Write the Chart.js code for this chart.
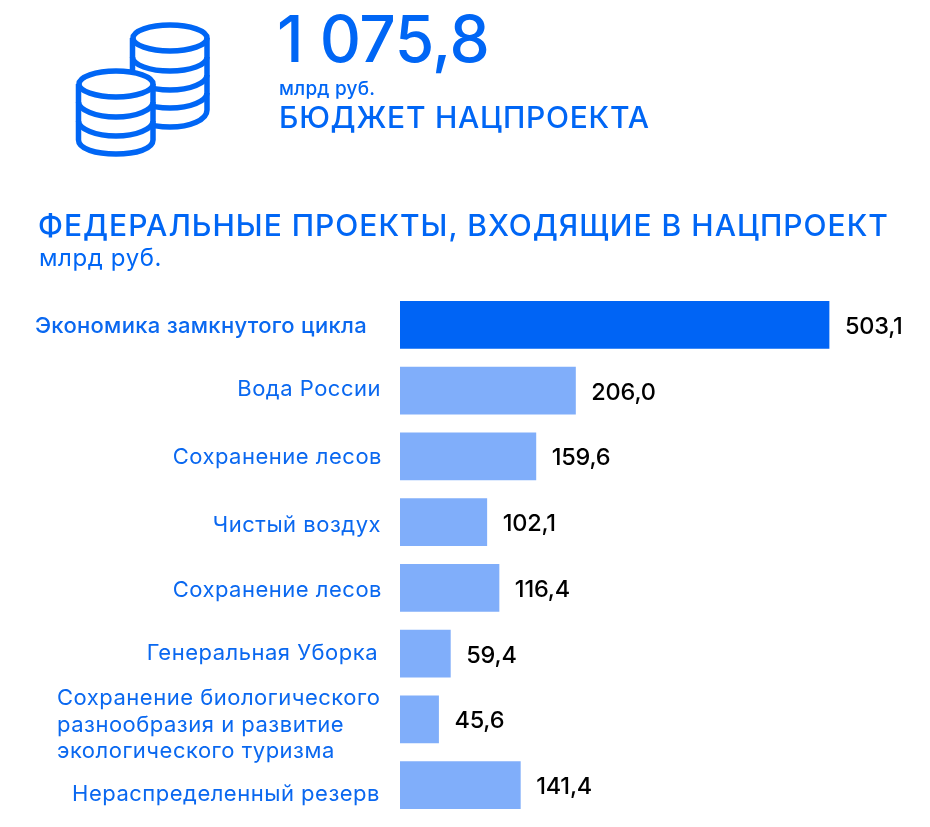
<!DOCTYPE html>
<html lang="ru">
<head>
<meta charset="utf-8">
<title>Бюджет нацпроекта</title>
<script src="https://cdn.jsdelivr.net/npm/chart.js@4"></script>
<style>
html, body { margin: 0; padding: 0; background: #fff; }
body { width: 930px; height: 827px; position: relative; overflow: hidden; font-family: Inter, "Noto Sans", sans-serif; color: #0066f5; }
#budgetChart { position: absolute; left: 0; top: 0; }
.txt { position: absolute; white-space: nowrap; line-height: 1; }
#coins { position: absolute; left: 0; top: 0; }
</style>
</head>
<body>
<canvas id="budgetChart" width="930" height="827"></canvas>

<svg id="coins" width="230" height="170" fill="none" stroke="#0066f5" stroke-width="5.500">
  <!-- back stack -->
  <path fill="#fff" d="M132.500 38 V110 C132.500 120 150 127 170 127 C190 127 207 120 207 110 V38"/>
  <ellipse cx="170" cy="38" rx="37" ry="13"/>
  <path d="M132.500 57 C132.500 65 150 71 170 71 C190 71 207 65 207 57"/>
  <path d="M132.500 75 C132.500 83 150 90 170 90 C190 90 207 83 207 75"/>
  <path d="M132.500 93 C132.500 101 150 108 170 108 C190 108 207 101 207 93"/>
  <!-- front stack -->
  <path fill="#fff" d="M78.500 84 V140 C78.500 149 96 154 116 154 C136 154 153 149 153 140 V84"/>
  <ellipse cx="116" cy="84" rx="37" ry="13" fill="#fff"/>
  <path d="M78.500 102 C78.500 110 96 117 116 117 C136 117 153 110 153 102"/>
  <path d="M78.500 121 C78.500 129 96 136 116 136 C136 136 153 129 153 121"/>
</svg>

<div class="txt" style="left:277px;top:7px;font-size:64px;font-weight:500;letter-spacing:-0.5px">1 075,8</div>
<div class="txt" style="left:279px;top:79px;font-size:19px;font-weight:500;letter-spacing:0.2px">млрд руб.</div>
<div class="txt" style="left:279px;top:102px;font-size:30px;font-weight:500;letter-spacing:0.75px">БЮДЖЕТ НАЦПРОЕКТА</div>
<div class="txt" style="left:38px;top:210px;font-size:30px;font-weight:500;letter-spacing:1px">ФЕДЕРАЛЬНЫЕ ПРОЕКТЫ, ВХОДЯЩИЕ В НАЦПРОЕКТ</div>
<div class="txt" style="left:39px;top:246px;font-size:24px;font-weight:400;letter-spacing:0.6px">млрд руб.</div>

<script>
const categories = [
    ["Экономика замкнутого цикла"],
    ["Вода России"],
    ["Сохранение лесов"],
    ["Чистый воздух"],
    ["Сохранение лесов"],
    ["Генеральная Уборка"],
    ["Сохранение биологического", "разнообразия и развитие", "экологического туризма"],
    ["Нераспределенный резерв"]
];
const values = [503.1, 206.0, 159.6, 102.1, 116.4, 59.4, 45.6, 141.4];

const darkBlue = "#0064f5";
const lightBlue = "#80aefa";
const labelBlue = "#0a68f0";

// first bar is the highlighted one
const barColors = values.map((v, i) => i === 0 ? darkBlue : lightBlue);

function formatValue(v) {
    return v.toFixed(1).replace(".", ",");
}

// labels in the picture do not sit exactly on the bar centre
const labelRight = [367, 381, 382, 381, 382, 378, 381, 380];
const labelShift = [2, -1, 1, 3, 3, 0, 6, 9];

const textPlugin = {
    id: "textPlugin",
    afterDatasetsDraw(chart) {
        const ctx = chart.ctx;
        const meta = chart.getDatasetMeta(0);
        const yScale = chart.scales.y;
        ctx.save();
        ctx.textBaseline = "middle";

        categories.forEach((lines, i) => {
            const y = yScale.getPixelForValue(i) + labelShift[i];
            ctx.fillStyle = labelBlue;
            ctx.font = (i === 0 ? "500 " : "400 ") + "22px Inter, 'Noto Sans', sans-serif";
            ctx.letterSpacing = i === 0 ? "0.3px" : "0.5px";
            if (lines.length > 1) {
                // multi line label is left aligned
                ctx.textAlign = "left";
                lines.forEach((line, n) => {
                    ctx.fillText(line, 57, y + (n - 1) * 26.5);
                });
            } else {
                ctx.textAlign = "right";
                ctx.fillText(lines[0], labelRight[i], y);
            }
        });

        ctx.fillStyle = "#000";
        ctx.textAlign = "left";
        ctx.letterSpacing = "-0.2px";
        ctx.font = "500 23.500px Inter, 'Noto Sans', sans-serif";
        values.forEach((v, i) => {
            const bar = meta.data[i];
            ctx.fillText(formatValue(v), bar.x + 15.5, bar.y + 2);
        });
        ctx.restore();
    }
};

const budgetChart = new Chart(document.getElementById("budgetChart"), {
    type: "bar",
    data: {
        labels: categories,
        datasets: [{
            data: values,
            backgroundColor: barColors,
            borderWidth: 0,
            barPercentage: 0.73,
            categoryPercentage: 1
        }]
    },
    options: {
        indexAxis: "y",
        responsive: false,
        animation: false,
        layout: { padding: { left: 400, right: 0, top: 292, bottom: 9 } },
        plugins: { legend: { display: false }, tooltip: { enabled: false } },
        scales: {
            x: { display: false, min: 0, max: 621 },
            y: { display: false }
        }
    },
    plugins: [textPlugin]
});
</script>
</body>
</html>
